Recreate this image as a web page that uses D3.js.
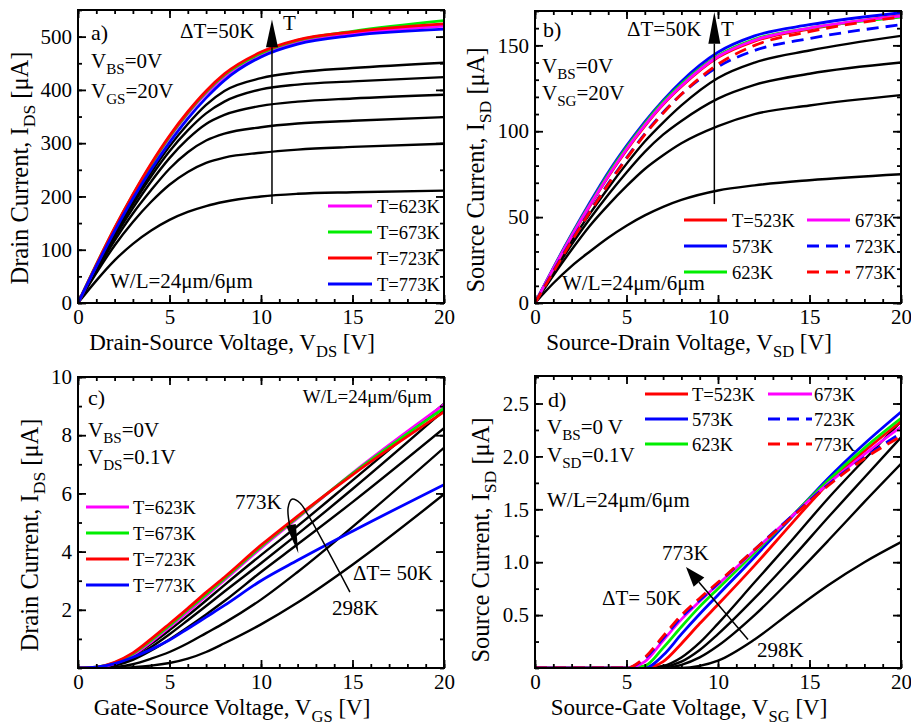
<!DOCTYPE html>
<html>
<head>
<meta charset="utf-8">
<script src="https://cdn.jsdelivr.net/npm/d3@7"></script>
<style>
  body { margin: 0; background: #fff; }
  text { font-family: "Liberation Serif", "Times New Roman", serif; fill: #000; }
</style>
</head>
<body>
<svg id="chart" width="911" height="725"></svg>
<script>
// ---- data ----

// a) output, NMOS, V_GS = 20 V
var vA = [0, 1, 2, 3, 4, 5, 6, 7, 8, 10, 12, 15, 20];
var aBlack = [
  [0, 42, 80, 111, 136, 156, 171, 182, 190, 200, 205, 208, 211],
  [0, 56, 108, 152, 190, 222, 246, 263, 273, 282, 288, 293, 299],
  [0, 60, 117, 168, 212, 252, 283, 305, 318, 330, 337, 342, 349],
  [0, 63, 123, 178, 228, 272, 308, 336, 353, 370, 378, 384, 391],
  [0, 65, 127, 185, 238, 285, 324, 356, 378, 401, 410, 416, 424],
  [0, 67, 131, 191, 245, 294, 336, 372, 398, 422, 433, 441, 451]
];
var aTemps = ["T=623K", "T=673K", "T=723K", "T=773K"];
var aColored = [
  [0, 71, 139, 202, 259, 310, 355, 393, 425, 466, 489, 505, 520],
  [0, 72, 140, 203, 260, 312, 357, 396, 428, 469, 493, 510, 530],
  [0, 72, 141, 204, 262, 314, 359, 398, 430, 471, 494, 509, 524],
  [0, 69, 135, 196, 251, 301, 346, 385, 418, 462, 486, 502, 514]
];

// b) output, PMOS, V_SG = 20 V
var vB = [0, 1, 2, 3, 4, 5, 6, 7, 8, 10, 12, 15, 20];
var bBlack = [
  [0, 11.5, 21.5, 30, 38, 45, 51, 56, 60, 65.5, 68.5, 71.5, 75],
  [0, 16, 31, 45, 57, 68, 78, 86, 93, 103, 110, 115, 121],
  [0, 17.5, 34, 49, 63, 76, 88, 98, 106, 119, 127, 133.5, 140],
  [0, 18.5, 36, 52, 67, 81, 94, 105, 115, 131, 140, 147, 155.5]
];
var bTemps = ["T=523K", "573K", "623K", "673K", "723K", "773K"];
var bColored = [
  [0, 19.5, 38.5, 56.5, 73.5, 89, 103, 115.5, 126, 143, 152.5, 159.5, 167.5],
  [0, 20.5, 40, 58.5, 76, 91.5, 105.5, 118, 129, 146, 155.5, 162, 169],
  [0, 20, 39.5, 57.5, 75, 90.5, 104.5, 117, 127.5, 144, 153.5, 160, 166.5],
  [0, 20, 39, 57, 74, 89.5, 103.5, 116, 126.5, 143.5, 153, 160, 167],
  [0, 18.5, 36.5, 53.5, 69.5, 84.5, 98.5, 111, 121.5, 137.5, 147, 154, 162],
  [0, 18, 36, 53, 69, 84, 98, 110.5, 121.5, 139, 150, 158, 166.5]
];

// c) transfer, NMOS, V_DS = 0.1 V
var vC = [0, 1, 2, 3, 4, 5, 6, 7, 8, 10, 12, 15, 20];
var cBlack = [
  [0, 0, 0.01, 0.03, 0.08, 0.17, 0.32, 0.55, 0.85, 1.5, 2.25, 3.55, 5.97],
  [0, 0, 0.03, 0.13, 0.32, 0.55, 0.85, 1.2, 1.55, 2.35, 3.3, 4.85, 7.57],
  [0, 0.01, 0.08, 0.28, 0.6, 0.98, 1.4, 1.84, 2.3, 3.3, 4.25, 5.7, 8.24],
  [0, 0.01, 0.1, 0.35, 0.72, 1.16, 1.64, 2.13, 2.63, 3.6, 4.6, 6.15, 8.85],
  [0, 0.02, 0.13, 0.42, 0.83, 1.3, 1.8, 2.32, 2.85, 3.88, 4.88, 6.45, 9.08]
];
var cTemps = ["T=623K", "T=673K", "T=723K", "T=773K"];
var cColored = [
  [0, 0.02, 0.15, 0.44, 0.89, 1.4, 1.93, 2.47, 3.02, 4.12, 5.15, 6.7, 9.05],
  [0, 0.03, 0.18, 0.49, 0.95, 1.46, 2.0, 2.53, 3.07, 4.17, 5.18, 6.68, 8.93],
  [0, 0.03, 0.2, 0.52, 1.0, 1.52, 2.05, 2.6, 3.12, 4.22, 5.22, 6.64, 8.8],
  [0, 0.03, 0.15, 0.37, 0.64, 0.96, 1.35, 1.75, 2.15, 3.0, 3.7, 4.7, 6.3]
];

// d) transfer, PMOS, V_SD = 0.1 V
var vD = [0, 4, 5, 6, 7, 8, 9, 10, 12, 14, 16, 18, 20];
var dBlack = [
  [0, 0, 0, 0, 0, 0, 0.02, 0.07, 0.27, 0.53, 0.78, 1.0, 1.19],
  [0, 0, 0, 0, 0, 0.03, 0.1, 0.21, 0.5, 0.84, 1.2, 1.57, 1.93],
  [0, 0, 0, 0, 0.01, 0.06, 0.17, 0.32, 0.66, 1.03, 1.42, 1.8, 2.18],
  [0, 0, 0, 0, 0.02, 0.1, 0.24, 0.42, 0.81, 1.2, 1.6, 1.97, 2.33]
];
var dTemps = ["T=523K", "573K", "623K", "673K", "723K", "773K"];
var dColored = [
  [0, 0, 0, 0, 0.06, 0.23, 0.42, 0.6, 0.97, 1.36, 1.74, 2.05, 2.33],
  [0, 0, 0, 0, 0.12, 0.32, 0.51, 0.69, 1.05, 1.42, 1.79, 2.12, 2.42],
  [0, 0, 0, 0.02, 0.19, 0.39, 0.58, 0.75, 1.09, 1.43, 1.77, 2.08, 2.36],
  [0, 0, 0, 0.06, 0.26, 0.46, 0.63, 0.79, 1.11, 1.43, 1.74, 2.02, 2.28],
  [0, 0, 0, 0.09, 0.28, 0.48, 0.64, 0.8, 1.12, 1.43, 1.73, 1.99, 2.22],
  [0, 0, 0, 0.1, 0.3, 0.5, 0.66, 0.81, 1.12, 1.42, 1.72, 1.98, 2.19]
];

var xTicks = [0, 5, 10, 15, 20];

// ---- styles ----
var MAG = "#ff00ff", GRN = "#00ee00", RED = "#ff0000", BLU = "#0000ff";
var fourColors = [MAG, GRN, RED, BLU];
var sixColors = [RED, BLU, GRN, MAG, BLU, RED];
var sixDash = [null, null, null, null, "12,7", "12,7"];

var svg = d3.select("#chart");
svg.append("rect").attr("width", 911).attr("height", 725).attr("fill", "#fff");

// text with subscripts: plain strings, ["sub"] arrays are subscripts
function richText(g, x, y, parts, size, anchor, rotate) {
  var t = g.append("text")
    .attr("font-size", size)
    .attr("text-anchor", anchor || "start");
  if (rotate) t.attr("transform", "translate(" + x + "," + y + ") rotate(-90)");
  else t.attr("x", x).attr("y", y);
  var shift = 0;
  parts.forEach(function(p) {
    var isSub = Array.isArray(p);
    var s = t.append("tspan").text(isSub ? p[0] : p);
    var target = isSub ? size * 0.3 : 0;
    if (target !== shift) { s.attr("dy", target - shift); shift = target; }
    if (isSub) s.attr("font-size", size * 0.72);
  });
  return t;
}

function drawPanel(p) {
  var g = svg.append("g");
  var x = d3.scaleLinear().domain([0, 20]).range([p.left, p.right]);
  var y = d3.scaleLinear().domain(p.yDomain).range([p.bottom, p.top]);

  g.append("clipPath").attr("id", "clip-" + p.id)
    .append("rect")
    .attr("x", p.left).attr("y", p.top)
    .attr("width", p.right - p.left).attr("height", p.bottom - p.top);

  var line = d3.line()
    .x(function(d) { return x(d[0]); })
    .y(function(d) { return y(d[1]); })
    .curve(d3.curveMonotoneX);

  var curves = g.append("g").attr("clip-path", "url(#clip-" + p.id + ")");
  p.series.forEach(function(s) {
    curves.append("path")
      .datum(p.xs.map(function(v, i) { return [v, s.values[i]]; }))
      .attr("d", line)
      .attr("fill", "none")
      .attr("stroke", s.color)
      .attr("stroke-width", s.color === "#000" ? 2.4 : 2.8)
      .attr("stroke-dasharray", s.dash);
  });

  // ticks, inward on all four sides
  function ticks(axis, tx, ty, values, size) {
    g.append("g")
      .attr("transform", "translate(" + tx + "," + ty + ")")
      .call(axis.tickValues(values).tickSize(-size).tickFormat(""))
      .call(function(a) { a.select(".domain").remove(); })
      .selectAll("line").attr("stroke-width", 1.8);
  }
  var xMinor = d3.range(0, 21, 1);
  var yMinor = d3.range(p.yDomain[0], p.yDomain[1] + 1e-9, p.yMinor);
  [[d3.axisBottom(x), 0, p.bottom], [d3.axisTop(x), 0, p.top]].forEach(function(a) {
    ticks(a[0], a[1], a[2], xMinor, 4);
    ticks(a[0], a[1], a[2], xTicks, 8);
  });
  [[d3.axisLeft(y), p.left, 0], [d3.axisRight(y), p.right, 0]].forEach(function(a) {
    ticks(a[0], a[1], a[2], yMinor, 4);
    ticks(a[0], a[1], a[2], p.yTicks, 8);
  });

  g.append("rect")
    .attr("x", p.left).attr("y", p.top)
    .attr("width", p.right - p.left).attr("height", p.bottom - p.top)
    .attr("fill", "none").attr("stroke", "#000").attr("stroke-width", 2);

  // tick labels
  g.append("g")
    .attr("transform", "translate(0," + p.bottom + ")")
    .call(d3.axisBottom(x).tickValues(xTicks).tickSize(0).tickPadding(6))
    .call(function(a) { a.select(".domain").remove(); })
    .attr("font-size", 21).attr("font-family", null);
  g.append("g")
    .attr("transform", "translate(" + p.left + ",0)")
    .call(d3.axisLeft(y).tickValues(p.yTicks).tickSize(0).tickPadding(6).tickFormat(p.yFormat))
    .call(function(a) { a.select(".domain").remove(); })
    .attr("font-size", 21).attr("font-family", null);

  // axis titles
  richText(g, p.xTitleX, p.bottom + 47, p.xTitle, 23, "middle");
  richText(g, p.yTitleX, p.yTitleY, p.yTitle, 24.5, "middle", true);

  return { g: g, x: x, y: y };
}

function legendRow(g, x1, x2, y, color, dash, label, tx, anchor) {
  g.append("line")
    .attr("x1", x1).attr("x2", x2).attr("y1", y).attr("y2", y)
    .attr("stroke", color).attr("stroke-width", 2.8)
    .attr("stroke-dasharray", dash);
  g.append("text").attr("x", tx).attr("y", y + 7)
    .attr("font-size", 18.5).attr("text-anchor", anchor || "start")
    .text(label);
}

function upArrow(P, v, from, base, tip) {
  P.g.append("line")
    .attr("x1", P.x(v)).attr("x2", P.x(v))
    .attr("y1", P.y(from)).attr("y2", P.y(base))
    .attr("stroke", "#000").attr("stroke-width", 1.5);
  P.g.append("path")
    .attr("d", "M" + (P.x(v) - 6) + "," + P.y(base) + "L" + (P.x(v) + 6) + "," + P.y(base) +
               "L" + P.x(v) + "," + P.y(tip) + "Z")
    .attr("fill", "#000");
}

function seriesOf(black, colored, colors, dashes) {
  var s = black.map(function(v) { return { values: v, color: "#000", dash: null }; });
  colored.forEach(function(v, i) {
    s.push({ values: v, color: colors[i], dash: dashes ? dashes[i] : null });
  });
  return s;
}

// ---- panel a ----
var A = drawPanel({
  id: "a", left: 78, right: 444, top: 10, bottom: 303,
  yDomain: [0, 550], yTicks: [0, 100, 200, 300, 400, 500], yMinor: 50, yFormat: d3.format("d"),
  xs: vA, series: seriesOf(aBlack, aColored, fourColors),
  xTitle: ["Drain-Source Voltage, V", ["DS"], " [V]"], xTitleX: 232,
  yTitle: ["Drain Current, I", ["DS"], " [μA]"], yTitleX: 28, yTitleY: 168
});
upArrow(A, 10.6, 186, 480, 532);
A.g.append("text").attr("x", 91).attr("y", 40).attr("font-size", 22).text("a)");
A.g.append("text").attr("x", 180).attr("y", 38).attr("font-size", 21).text("ΔT=50K");
A.g.append("text").attr("x", 283).attr("y", 30).attr("font-size", 21).text("T");
richText(A.g, 91, 68, ["V", ["BS"], "=0V"], 21);
richText(A.g, 91, 98, ["V", ["GS"], "=20V"], 21);
A.g.append("text").attr("x", 110).attr("y", 288).attr("font-size", 21).text("W/L=24μm/6μm");
aTemps.forEach(function(t, i) {
  legendRow(A.g, 328, 372, 206 + i * 26, fourColors[i], null, t, 377);
});

// ---- panel b ----
var B = drawPanel({
  id: "b", left: 535, right: 901, top: 11, bottom: 303,
  yDomain: [0, 170], yTicks: [0, 50, 100, 150], yMinor: 10, yFormat: d3.format("d"),
  xs: vB, series: seriesOf(bBlack, bColored, sixColors, sixDash),
  xTitle: ["Source-Drain Voltage, V", ["SD"], " [V]"], xTitleX: 689,
  yTitle: ["Source Current, I", ["SD"], " [μA]"], yTitleX: 484, yTitleY: 170
});
upArrow(B, 9.8, 57.6, 151, 169.4);
B.g.append("text").attr("x", 543).attr("y", 37).attr("font-size", 22).text("b)");
B.g.append("text").attr("x", 627).attr("y", 36).attr("font-size", 21).text("ΔT=50K");
B.g.append("text").attr("x", 721).attr("y", 36).attr("font-size", 21).text("T");
richText(B.g, 542, 73, ["V", ["BS"], "=0V"], 21);
richText(B.g, 542, 100, ["V", ["SG"], "=20V"], 21);
B.g.append("text").attr("x", 562).attr("y", 290).attr("font-size", 21).text("W/L=24μm/6μm");
bTemps.forEach(function(t, i) {
  var col = Math.floor(i / 3), row = i % 3;
  if (col === 0) legendRow(B.g, 684, 727, 220 + row * 26, sixColors[i], sixDash[i], t, 732);
  else legendRow(B.g, 807, 850, 220 + row * 26, sixColors[i], sixDash[i], t, 896, "end");
});

// ---- panel c ----
var C = drawPanel({
  id: "c", left: 78, right: 444, top: 377, bottom: 668,
  yDomain: [0, 10], yTicks: [2, 4, 6, 8, 10], yMinor: 1, yFormat: d3.format("d"),
  xs: vC, series: seriesOf(cBlack, cColored, fourColors),
  xTitle: ["Gate-Source Voltage, V", ["GS"], " [V]"], xTitleX: 232,
  yTitle: ["Drain Current, I", ["DS"], " [μA]"], yTitleX: 38, yTitleY: 535
});
C.g.append("text").attr("x", 88).attr("y", 405).attr("font-size", 22).text("c)");
C.g.append("text").attr("x", 432).attr("y", 403).attr("font-size", 19)
  .attr("text-anchor", "end").text("W/L=24μm/6μm");
richText(C.g, 88, 437, ["V", ["BS"], "=0V"], 21);
richText(C.g, 88, 464, ["V", ["DS"], "=0.1V"], 21);
cTemps.forEach(function(t, i) {
  legendRow(C.g, 86, 129, 507 + i * 26, fourColors[i], null, t, 133);
});
C.g.append("text").attr("x", 235).attr("y", 509).attr("font-size", 21).text("773K");
C.g.append("text").attr("x", 353).attr("y", 580).attr("font-size", 21).text("ΔT= 50K");
C.g.append("text").attr("x", 332).attr("y", 615).attr("font-size", 21).text("298K");
// looped arrow from 298K up to 773K
var loop = [[14.86, 2.61], [12.57, 5.26], [12.13, 5.67], [11.69, 5.8], [11.48, 5.5], [11.58, 4.85]];
C.g.append("path")
  .datum(loop)
  .attr("d", d3.line().x(function(d) { return C.x(d[0]); }).y(function(d) { return C.y(d[1]); })
    .curve(d3.curveCatmullRom))
  .attr("fill", "none").attr("stroke", "#000").attr("stroke-width", 1.5);
C.g.append("path")
  .datum([[11.38, 4.88], [11.9, 4.95], [12.04, 3.94]])
  .attr("d", d3.line().x(function(d) { return C.x(d[0]); }).y(function(d) { return C.y(d[1]); }))
  .attr("fill", "#000");

// ---- panel d ----
var D = drawPanel({
  id: "d", left: 535, right: 901, top: 376, bottom: 668,
  yDomain: [0, 2.76], yTicks: [0.5, 1.0, 1.5, 2.0, 2.5], yMinor: 0.25, yFormat: d3.format(".1f"),
  xs: vD, series: seriesOf(dBlack, dColored, sixColors, sixDash),
  xTitle: ["Source-Gate Voltage, V", ["SG"], " [V]"], xTitleX: 689,
  yTitle: ["Source Current, I", ["SD"], " [μA]"], yTitleX: 489, yTitleY: 540
});
D.g.append("text").attr("x", 548).attr("y", 407).attr("font-size", 22).text("d)");
richText(D.g, 547, 434, ["V", ["BS"], "=0 V"], 21);
richText(D.g, 547, 462, ["V", ["SD"], "=0.1V"], 21);
D.g.append("text").attr("x", 547).attr("y", 507).attr("font-size", 21).text("W/L=24μm/6μm");
dTemps.forEach(function(t, i) {
  var col = Math.floor(i / 3), row = i % 3;
  if (col === 0) legendRow(D.g, 645, 688, 394 + row * 25, sixColors[i], sixDash[i], t, 692);
  else legendRow(D.g, 768, 812, 394 + row * 25, sixColors[i], sixDash[i], t, 855, "end");
});
D.g.append("text").attr("x", 662).attr("y", 560).attr("font-size", 21).text("773K");
D.g.append("text").attr("x", 602).attr("y", 605).attr("font-size", 21).text("ΔT= 50K");
D.g.append("text").attr("x", 757).attr("y", 657).attr("font-size", 21).text("298K");
// straight arrow 298K -> 773K
var tail = [11.64, 0.27], tip = [8.25, 0.955];
var tx = D.x(tip[0]), ty = D.y(tip[1]);
var ang = Math.atan2(D.y(tail[1]) - ty, D.x(tail[0]) - tx);
var hx = tx + 20 * Math.cos(ang), hy = ty + 20 * Math.sin(ang);
D.g.append("line")
  .attr("x1", D.x(tail[0])).attr("y1", D.y(tail[1])).attr("x2", hx).attr("y2", hy)
  .attr("stroke", "#000").attr("stroke-width", 1.5);
D.g.append("path")
  .attr("d", "M" + tx + "," + ty +
    "L" + (hx + 7 * Math.sin(ang)) + "," + (hy - 7 * Math.cos(ang)) +
    "L" + (hx - 7 * Math.sin(ang)) + "," + (hy + 7 * Math.cos(ang)) + "Z")
  .attr("fill", "#000");
</script>
</body>
</html>
